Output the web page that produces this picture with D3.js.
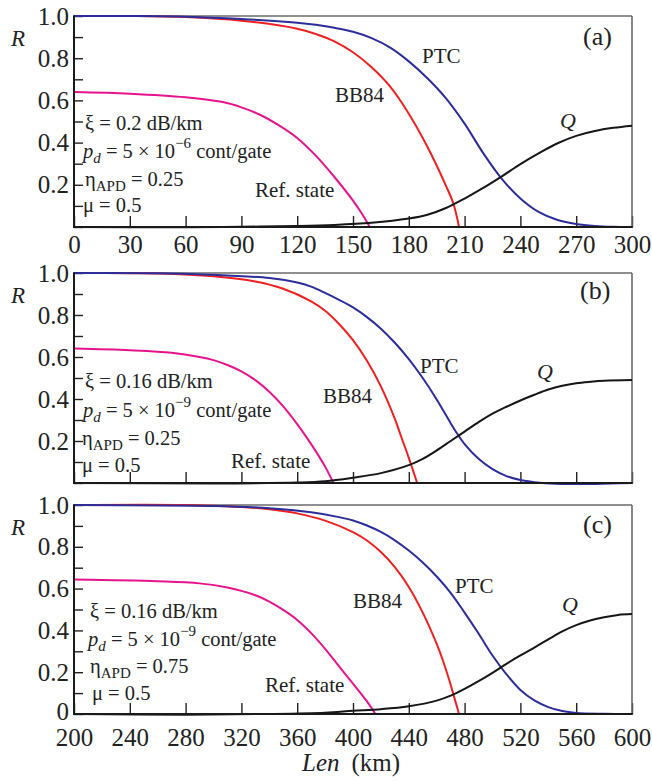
<!DOCTYPE html>
<html>
<head>
<meta charset="utf-8">
<script src="https://cdn.jsdelivr.net/npm/d3@7/dist/d3.min.js"></script>
<style>
  body { margin: 0; background: #fff; }
  svg { display: block; font-family: "Liberation Serif", "Times New Roman", serif; }
</style>
</head>
<body>
<div id="chart"></div>
<script>
// ---- data ----
const xTicksA = [0, 30, 60, 90, 120, 150, 180, 210, 240, 270, 300];
const xTicksBC = [200, 240, 280, 320, 360, 400, 440, 480, 520, 560, 600];
const yTicks = [0, 0.1, 0.2, 0.3, 0.4, 0.5, 0.6, 0.7, 0.8, 0.9, 1.0];

// panel (a): Len 0..300 km
const ptcA = [[0,1],[30,1],[60,0.997],[90,0.986],[120,0.968],[130,0.958],[140,0.944],[150,0.925],[160,0.895],[170,0.85],[180,0.785],[190,0.705],[200,0.61],[210,0.49],[220,0.35],[230,0.228],[240,0.135],[250,0.07],[260,0.033],[270,0.014],[280,0.005],[290,0.001],[300,0]];
const bb84A = [[0,1],[30,1],[60,0.995],[90,0.978],[120,0.94],[130,0.915],[140,0.88],[150,0.828],[160,0.757],[170,0.665],[180,0.537],[190,0.38],[200,0.195],[204,0.11],[207,0]];
const refA = [[0,0.64],[30,0.632],[60,0.615],[80,0.592],[90,0.567],[100,0.532],[110,0.483],[120,0.422],[130,0.338],[140,0.237],[150,0.125],[155,0.06],[159,0]];
const qA = [[0,0],[60,-0.001],[90,0.001],[120,0.005],[140,0.01],[160,0.02],[180,0.04],[190,0.058],[200,0.09],[210,0.135],[220,0.185],[230,0.24],[240,0.298],[250,0.35],[260,0.397],[270,0.432],[280,0.455],[290,0.47],[300,0.48]];

// panel (b): Len 200..600 km
const ptcB = [[200,1],[270,0.998],[310,0.988],[340,0.976],[360,0.955],[370,0.935],[380,0.905],[390,0.872],[400,0.836],[410,0.79],[420,0.735],[430,0.668],[440,0.59],[450,0.5],[460,0.398],[470,0.285],[475,0.232],[480,0.185],[490,0.115],[500,0.066],[510,0.033],[520,0.014],[530,0.004],[545,-0.004],[565,-0.005],[585,-0.002],[600,0]];
const bb84B = [[200,1],[260,0.998],[300,0.985],[330,0.96],[350,0.925],[370,0.865],[380,0.82],[390,0.757],[400,0.68],[410,0.582],[420,0.46],[430,0.305],[435,0.212],[440,0.12],[443,0.06],[446,0]];
const refB = [[200,0.64],[240,0.632],[270,0.62],[290,0.6],[300,0.585],[310,0.562],[320,0.532],[330,0.49],[340,0.435],[350,0.365],[360,0.28],[370,0.185],[380,0.078],[386,0]];
const qB = [[200,0],[300,-0.002],[360,0.002],[380,0.008],[400,0.025],[420,0.047],[440,0.085],[450,0.115],[460,0.155],[470,0.2],[480,0.245],[490,0.29],[500,0.33],[510,0.363],[520,0.393],[530,0.42],[540,0.445],[550,0.463],[560,0.475],[570,0.482],[580,0.487],[600,0.49]];

// panel (c): Len 200..600 km
const ptcC = [[200,1],[300,0.995],[340,0.985],[370,0.965],[390,0.942],[400,0.926],[410,0.902],[420,0.871],[430,0.831],[440,0.782],[450,0.725],[460,0.658],[470,0.58],[480,0.485],[490,0.385],[500,0.28],[510,0.19],[520,0.115],[530,0.065],[540,0.033],[550,0.014],[560,0.005],[580,0.001],[600,0]];
const bb84C = [[200,1],[280,1],[320,0.99],[340,0.98],[360,0.96],[380,0.925],[400,0.87],[410,0.83],[420,0.775],[430,0.703],[440,0.608],[450,0.485],[460,0.335],[465,0.245],[470,0.14],[473,0.07],[476,0]];
const refC = [[200,0.643],[260,0.635],[290,0.625],[310,0.605],[330,0.568],[340,0.538],[350,0.498],[360,0.45],[370,0.387],[380,0.312],[390,0.228],[400,0.145],[410,0.06],[416,0]];
const qC = [[200,0],[280,-0.003],[340,0],[380,0.006],[400,0.015],[420,0.023],[440,0.037],[460,0.064],[470,0.088],[480,0.12],[490,0.157],[500,0.197],[510,0.24],[520,0.28],[530,0.318],[540,0.357],[550,0.395],[560,0.425],[570,0.447],[580,0.463],[590,0.474],[600,0.478]];

const paramsA = { xi: "0.2", pdExp: "−6", eta: "0.25", mu: "0.5" };
const paramsB = { xi: "0.16", pdExp: "−9", eta: "0.25", mu: "0.5" };
const paramsC = { xi: "0.16", pdExp: "−9", eta: "0.75", mu: "0.5" };

// ---- colours ----
const colors = { ptc: "#2d2d9a", bb84: "#ef2020", ref: "#e6148c", q: "#161616" };
const textColor = "#222";

// ---- layout ----
const W = 652, H = 781;
const left = 74, right = 632;

const panels = [
  { tag: "(a)", top: 16, bottom: 227, domain: [0, 300], ticks: xTicksA, xLabels: true, zero: false, labelPad: 8,
    series: { ptc: ptcA, bb84: bb84A, ref: refA, q: qA }, params: paramsA,
    paramPos: [[85,130],[83,158],[85,186],[83,212]],
    lab: { ptc: [422,63], bb84: [335,102], ref: [255,197], q: [560,128], tag: [583,45] } },
  { tag: "(b)", top: 273, bottom: 483, domain: [200, 600], ticks: xTicksBC, xLabels: false, zero: false,
    series: { ptc: ptcB, bb84: bb84B, ref: refB, q: qB }, params: paramsB,
    paramPos: [[85,388],[83,417],[82,445],[82,472]],
    lab: { ptc: [420,373], bb84: [323,403], ref: [231,468], q: [537,379], tag: [580,299] } },
  { tag: "(c)", top: 505, bottom: 714, domain: [200, 600], ticks: xTicksBC, xLabels: true, zero: true, labelPad: 14,
    series: { ptc: ptcC, bb84: bb84C, ref: refC, q: qC }, params: paramsC,
    paramPos: [[90,618],[88,646],[90,673],[92,700]],
    lab: { ptc: [455,593], bb84: [353,608], ref: [265,692], q: [562,612], tag: [583,533] } }
];

const svg = d3.select("#chart")
  .append("svg")
  .attr("width", W)
  .attr("height", H);

panels.forEach(p => {
  const x = d3.scaleLinear().domain(p.domain).range([left, right]);
  const y = d3.scaleLinear().domain([0, 1]).range([p.bottom, p.top]);
  const g = svg.append("g");

  // y axis: ticks every 0.1 pointing inward, labels every 0.2
  const yAxis = g.append("g")
    .attr("transform", `translate(${left},0)`)
    .call(d3.axisLeft(y)
      .tickValues(yTicks)
      .tickSizeInner(-9)
      .tickSizeOuter(0)
      .tickPadding(5)
      .tickFormat(d => {
        const k = Math.round(d * 10);
        if (k % 2 !== 0) return "";
        if (k === 0) return p.zero ? "0" : "";
        return d3.format(".1f")(d);
      }));
  yAxis.select(".domain").remove();
  yAxis.selectAll("line").attr("stroke", "#222").attr("stroke-width", 1.4);
  yAxis.selectAll("text")
    .style("font-family", "Liberation Serif, serif")
    .style("font-size", "25px")
    .attr("fill", textColor);
  if (p.zero) yAxis.selectAll("text").filter(d => d === 0).attr("dy", "0.22em");

  // x axis: inward ticks
  const xAxis = g.append("g")
    .attr("transform", `translate(0,${p.bottom})`)
    .call(d3.axisBottom(x)
      .tickValues(p.ticks)
      .tickSizeInner(-11)
      .tickSizeOuter(0)
      .tickPadding(p.labelPad || 0)
      .tickFormat(d => p.xLabels ? d : ""));
  xAxis.select(".domain").remove();
  xAxis.selectAll("line").attr("stroke", "#222").attr("stroke-width", 1.4);
  xAxis.selectAll("text")
    .style("font-family", "Liberation Serif, serif")
    .style("font-size", "25px")
    .attr("fill", textColor);

  // frame
  g.append("line").attr("x1", left).attr("x2", right).attr("y1", p.top).attr("y2", p.top)
    .attr("stroke", "#6a6a6a").attr("stroke-width", 1.6);
  g.append("line").attr("x1", right).attr("x2", right).attr("y1", p.top).attr("y2", p.bottom)
    .attr("stroke", "#6a6a6a").attr("stroke-width", 1.6);

  // curves
  const line = d3.line()
    .x(d => x(d[0]))
    .y(d => y(d[1]))
    .curve(d3.curveCatmullRom.alpha(0.5));

  ["ref", "bb84", "ptc", "q"].forEach(key => {
    g.append("path")
      .datum(p.series[key])
      .attr("fill", "none")
      .attr("stroke", colors[key])
      .attr("stroke-width", 2)
      .attr("d", line);
  });

  g.append("line").attr("x1", left).attr("x2", left).attr("y1", p.top - 0.8).attr("y2", p.bottom + 1)
    .attr("stroke", "#1a1a1a").attr("stroke-width", 2);
  g.append("line").attr("x1", left).attr("x2", right + 0.8).attr("y1", p.bottom).attr("y2", p.bottom)
    .attr("stroke", "#1a1a1a").attr("stroke-width", 2);

  // R label
  g.append("text")
    .attr("x", 11).attr("y", p.top + 30)
    .style("font-size", "23px").style("font-style", "italic")
    .attr("fill", textColor)
    .text("R");

  // curve labels
  const lab = (pos, txt, italic, size) => g.append("text")
    .attr("x", pos[0]).attr("y", pos[1])
    .style("font-size", (size || 21) + "px")
    .style("font-style", italic ? "italic" : "normal")
    .attr("fill", textColor)
    .text(txt);
  lab(p.lab.ptc, "PTC");
  lab(p.lab.bb84, "BB84");
  lab(p.lab.ref, "Ref. state");
  lab(p.lab.q, "Q", true, 22);
  lab(p.lab.tag, p.tag, false, 26);

  // parameter block
  const fs = 20.5;
  const pr = p.params;
  g.append("text").attr("x", p.paramPos[0][0]).attr("y", p.paramPos[0][1])
    .style("font-size", fs + "px").attr("fill", textColor)
    .text(`ξ = ${pr.xi} dB/km`);

  const t2 = g.append("text").attr("x", p.paramPos[1][0]).attr("y", p.paramPos[1][1])
    .style("font-size", fs + "px").attr("fill", textColor);
  t2.append("tspan").style("font-style", "italic").text("p");
  t2.append("tspan").style("font-style", "italic").style("font-size", "15px").attr("dy", 5).text("d");
  t2.append("tspan").attr("dy", -5).text(" = 5 × 10");
  t2.append("tspan").style("font-size", "15px").attr("dy", -10).text(pr.pdExp);
  t2.append("tspan").attr("dy", 10).text(" cont/gate");

  const t3 = g.append("text").attr("x", p.paramPos[2][0]).attr("y", p.paramPos[2][1])
    .style("font-size", fs + "px").attr("fill", textColor);
  t3.append("tspan").text("η");
  t3.append("tspan").style("font-size", "15px").attr("dy", 5).text("APD");
  t3.append("tspan").attr("dy", -5).text(` = ${pr.eta}`);

  g.append("text").attr("x", p.paramPos[3][0]).attr("y", p.paramPos[3][1])
    .style("font-size", fs + "px").attr("fill", textColor)
    .text(`μ = ${pr.mu}`);
});

// x axis title
const xt = svg.append("text")
  .attr("x", 302).attr("y", 771)
  .style("font-size", "25px")
  .attr("fill", textColor);
xt.append("tspan").style("font-style", "italic").text("Len");
xt.append("tspan").attr("dx", 12).text("(km)");
</script>
</body>
</html>
